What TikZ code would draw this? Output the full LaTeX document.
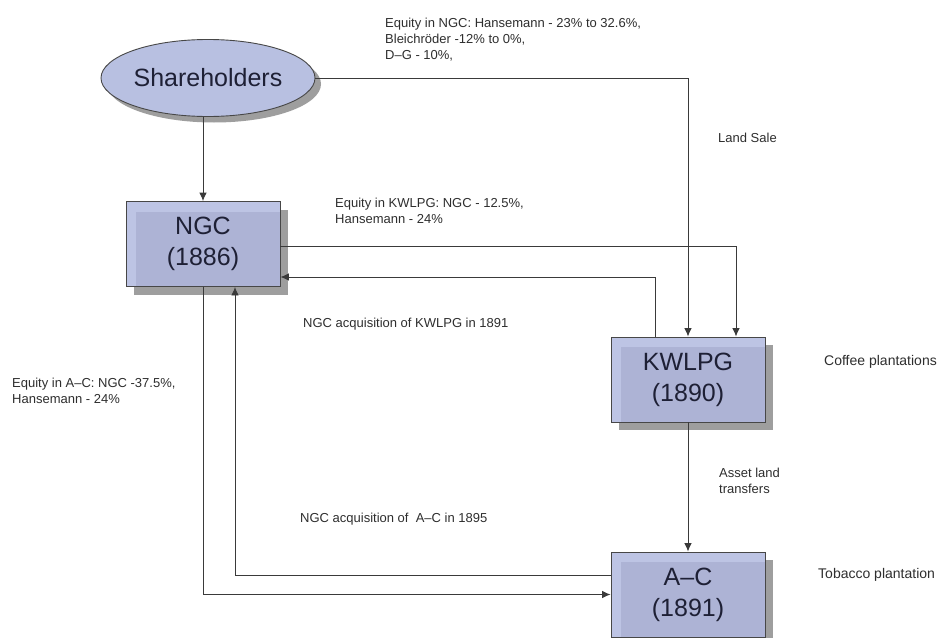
\documentclass[tikz,border=0pt]{standalone}
\usepackage{fontspec}
\setmainfont{Liberation Sans}
\usetikzlibrary{shapes.geometric,shadows,arrows.meta}
\definecolor{boxfill}{HTML}{BDC4E4}
\definecolor{boxinner}{HTML}{ADB3D5}
\definecolor{ellfill}{HTML}{B8C0E1}
\definecolor{boxline}{HTML}{474747}
\definecolor{boxtext}{HTML}{1E2035}
\definecolor{lbltext}{HTML}{2E2E2E}
\definecolor{shadecol}{HTML}{9E9E9E}
\definecolor{linecol}{HTML}{3A3A3A}
\tikzset{
  entity/.style={rectangle, draw=boxline, line width=0.9pt, fill=boxfill,
    minimum width=154pt, minimum height=85pt, inner sep=0pt, align=center,
    font=\fontsize{25}{31}\selectfont, text=boxtext,
    drop shadow={shadow xshift=8pt,shadow yshift=-8pt,fill=shadecol,opacity=1},
    path picture={\fill[boxinner] ([xshift=10pt,yshift=-10pt]path picture bounding box.north west) rectangle (path picture bounding box.south east);}},
  holder/.style={ellipse, draw=boxline, line width=0.9pt, fill=ellfill,
    minimum width=214pt, minimum height=77pt, inner sep=0pt,
    font=\fontsize{25}{30}\selectfont, text=boxtext,
    drop shadow={shadow xshift=6pt,shadow yshift=-6pt,fill=shadecol,opacity=1}},
  lbl/.style={font=\fontsize{13}{16}\selectfont, text=lbltext, align=left,
    inner sep=0pt, anchor=north west},
  sidelbl/.style={lbl, font=\fontsize{14}{16}\selectfont},
  arr/.style={draw=linecol, line width=0.9pt, -{Latex[length=8.5pt,width=7.5pt]}},
  ln/.style={draw=linecol, line width=0.9pt}
}
\begin{document}
\begin{tikzpicture}[x=1pt,y=-1pt]
\useasboundingbox (0,0) rectangle (944,637);
\fill[white] (0,0) rectangle (944,637);

\node[holder] (sh) at (208,78) {Shareholders};
\node[entity] (ngc) at (203,244) {NGC\\(1886)};
\node[entity] (kw) at (688,379.5) {KWLPG\\(1890)};
\node[entity] (ac) at (688,594.5) {A–C\\(1891)};

% connectors
\draw[arr] (sh.south -| ngc.north) -- (ngc.north);
\draw[arr] (sh.east) -| (kw.north);
\draw[arr] ([yshift=-2pt]ngc.east) -| ([xshift=48pt]kw.north);
\draw[arr] ([xshift=-33pt]kw.north) |- ([yshift=-33pt]ngc.east);
\draw[arr] (kw.south) -- (ac.north);
\draw[arr] (ngc.south) |- (ac.west);
\draw[arr] ([yshift=19.5pt]ac.west) -| ([xshift=32pt]ngc.south);

% labels
\node[lbl] (l1) at (385,18) {Equity in NGC: Hansemann - 23\% to 32.6\%,\\Bleichröder -12\% to 0\%,\\D–G - 10\%,};
\node[lbl] (l2) at (718,133) {Land Sale};
\node[lbl] (l3) at (335,198) {Equity in KWLPG: NGC - 12.5\%,\\Hansemann - 24\%};
\node[lbl] (l4) at (303,318) {NGC acquisition of KWLPG in 1891};
\node[sidelbl] (l5) at (824,355) {Coffee plantations};
\node[lbl] (l6) at (12,378) {Equity in A–C: NGC -37.5\%,\\Hansemann - 24\%};
\node[lbl] (l7) at (719,468) {Asset land\\transfers};
\node[lbl] (l8) at (300,513) {NGC acquisition of\ \ A–C in 1895};
\node[sidelbl] (l9) at (818,568) {Tobacco plantation};
\end{tikzpicture}
\end{document}
